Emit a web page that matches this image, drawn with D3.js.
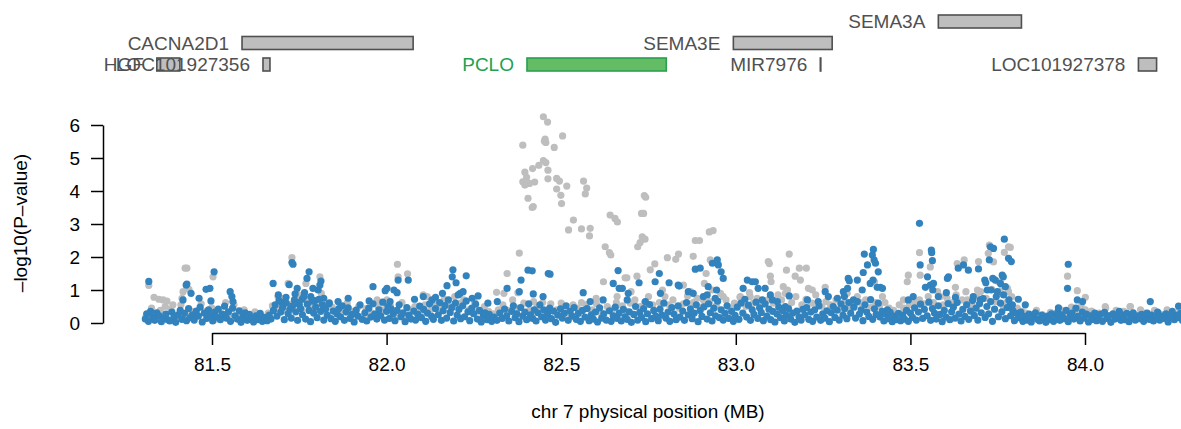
<!DOCTYPE html>
<html>
<head>
<meta charset="utf-8">
<script src="https://cdn.jsdelivr.net/npm/d3@7"></script>
<style>
  body { margin: 0; background: #fff; }
  svg { display: block; }
  text { font-family: "Liberation Sans", Arial, Helvetica, sans-serif; }
</style>
</head>
<body>
<svg id="chart" width="1181" height="429"></svg>
<script>
// Axis ticks (x in MB on chromosome 7, y in -log10 P)
const xTicks = [81.5, 82.0, 82.5, 83.0, 83.5, 84.0];
const yTicks = [0, 1, 2, 3, 4, 5, 6];

// Gene track: name, start / end (kb), track row
const geneNames  = ["SEMA3A", "CACNA2D1", "SEMA3E", "HGF", "LOC101927356", "PCLO", "MIR7976", "LOC101927378"];
const geneStartKb = [83580, 81586, 82993, 81342, 81646, 82402, 83242, 84153];
const geneEndKb   = [83818, 82076, 83276, 81408, 81666, 82801, 83243, 84205];
const geneTrack   = [0, 1, 1, 2, 2, 2, 2, 2];
const focusGene = "PCLO";

// SNP associations, flat pairs: position (kb), -log10(P)
const seriesGrey = [
  82449,6.25, 82461,6.09, 82504,5.67, 82454,5.57, 82456,5.47, 82452,5.51, 82480,5.32, 82390,5.39,
  82449,4.92, 82456,4.86, 82436,4.78, 82418,4.68, 82396,4.57, 82462,4.63, 82401,4.41, 82390,4.28,
  82396,4.18, 82409,4.23, 82424,4.27, 82487,4.38, 82495,4.30, 82462,4.37, 82516,4.15, 82487,4.06,
  82499,3.87, 82501,3.62, 82564,4.30, 82573,4.09, 82569,3.91, 82405,3.78, 82417,3.50, 82420,3.53,
  82535,3.12, 82521,2.82, 82558,2.85, 82583,2.87, 82581,2.64, 82640,3.27, 82654,3.17, 82661,3.06,
  82626,2.31, 82638,2.13, 82642,2.06, 82730,3.32, 82736,3.32, 82738,3.86, 82742,3.81, 82732,2.61,
  82740,2.54, 82726,2.44, 82719,2.31, 82621,1.25, 82683,1.37, 82688,1.37, 82717,1.42, 82755,1.61,
  82768,1.79, 82804,1.98, 82828,1.93, 82836,2.09, 82878,2.02, 82884,2.50, 82896,2.50, 82924,2.76,
  82935,2.80, 82927,1.91, 82380,2.12, 82345,1.50, 82031,1.78, 82060,1.49, 82315,0.93, 82336,0.90,
  82376,0.92, 82105,0.85,
  81423,1.66, 81428,1.66, 81319,1.14, 81334,0.78, 81348,0.72, 81360,0.70, 81371,0.66, 81388,0.55,
  81503,1.40, 81729,1.98, 81809,1.40, 81769,1.20, 81718,1.20, 81689,0.80, 81973,0.70, 82001,0.70,
  82033,1.40, 81675,0.48, 81417,0.95, 81434,1.02, 81414,0.75, 82116,0.80,
  82915,1.50, 82933,1.00, 82907,0.70, 82964,0.80, 83013,0.80, 83041,0.80, 83093,1.86, 83096,1.80,
  83099,1.42, 83101,1.25, 83145,1.60, 83153,2.09, 83170,1.42, 83182,1.66, 83202,1.66, 83185,1.30,
  83136,1.10, 83148,1.00, 83208,1.05, 83219,1.00, 83256,1.08, 83319,0.90, 83348,0.80, 83397,1.25,
  83420,0.80, 83480,0.70, 83494,1.45, 83491,1.25, 83526,2.13, 83528,1.45, 83557,1.70, 83586,0.80,
  83634,1.80, 83654,1.91, 83695,1.86, 83629,1.08, 83663,0.70, 83692,1.00, 83723,2.11, 83726,2.36,
  83769,2.14, 83781,2.31, 83786,2.29, 83738,1.85, 83752,1.25, 83763,1.10, 83778,1.05, 83781,0.95,
  83766,0.50, 83950,1.42, 83978,0.98, 84001,0.78, 84058,0.50, 84130,0.50, 82600,0.75, 82660,0.80,
  82700,0.95, 82790,1.00, 82850,1.15, 82870,0.95, 82910,1.20,
  81311,0.20, 81327,0.45, 81339,0.12, 81352,0.38, 81366,0.50, 81382,0.42, 81398,0.15, 81411,0.55,
  81424,0.30, 81440,0.36, 81452,0.22, 81469,0.58, 81482,0.35, 81499,0.46, 81511,0.12, 81521,0.30,
  81539,0.62, 81550,0.25, 81563,0.55, 81580,0.18, 81592,0.40, 81610,0.12, 81623,0.34, 81641,0.20,
  81653,0.09, 81661,0.30, 81673,0.52, 81689,0.44, 81700,0.75, 81716,0.36, 81733,0.60, 81747,0.85,
  81757,0.40, 81771,0.70, 81785,0.50, 81799,0.62, 81813,0.90, 81827,0.55, 81844,0.48, 81860,0.30,
  81871,0.40, 81887,0.60, 81904,0.35, 81920,0.50, 81933,0.20, 81941,0.44, 81958,0.30, 81975,0.52,
  81986,0.40, 81998,0.58, 82011,0.52, 82027,0.30, 82044,0.62, 82055,0.24, 82067,0.40, 82081,0.50,
  82097,0.30, 82110,0.55, 82126,0.40, 82138,0.62, 82150,0.45, 82165,0.72, 82180,0.52, 82195,0.80,
  82210,0.60, 82221,0.70, 82236,0.40, 82252,0.62, 82263,0.35, 82280,0.50, 82292,0.35, 82305,0.28,
  82320,0.40, 82333,0.55, 82348,0.38, 82361,0.70, 82375,0.45, 82393,0.60, 82410,0.40, 82421,0.65,
  82431,0.50, 82447,0.62, 82458,0.35, 82470,0.58, 82487,0.40, 82500,0.60, 82517,0.30, 82534,0.55,
  82546,0.45, 82558,0.62, 82571,0.55, 82589,0.40, 82601,0.58, 82614,0.30, 82632,0.50, 82646,0.40,
  82658,0.62, 82675,0.52, 82686,0.35, 82698,0.60, 82711,0.70, 82727,0.50, 82739,0.62, 82750,0.80,
  82762,0.55, 82781,0.62, 82797,0.80, 82809,0.55, 82820,0.70, 82838,0.45, 82850,0.58, 82862,0.82,
  82878,0.62, 82889,0.75, 82906,0.50, 82925,0.65, 82944,0.52, 82956,0.90, 82972,0.70, 82983,0.45,
  82996,0.60, 83012,0.78, 83029,0.50, 83039,0.92, 83050,0.60, 83061,0.75, 83076,0.55, 83092,0.70,
  83108,0.60, 83121,0.85, 83131,0.70, 83142,0.90, 83160,0.62, 83172,0.80, 83189,0.55, 83201,0.72,
  83218,0.60, 83229,0.85, 83246,0.50, 83258,0.65, 83271,0.55, 83287,0.70, 83299,0.42, 83314,0.62,
  83327,0.50, 83341,0.55, 83357,0.62, 83372,0.70, 83389,0.48, 83400,0.62, 83411,0.50, 83427,0.62,
  83439,0.45, 83452,0.38, 83468,0.55, 83481,0.45, 83497,0.55, 83510,0.62, 83526,0.70, 83538,0.58,
  83551,0.80, 83566,0.62, 83578,0.95, 83594,0.55, 83605,0.75, 83620,0.62, 83631,0.85, 83648,0.70,
  83659,0.95, 83676,0.55, 83690,0.80, 83701,0.95, 83717,0.75, 83733,1.02, 83744,0.65, 83760,0.90,
  83775,0.62, 83790,0.80, 83806,0.45, 83819,0.35, 83831,0.30, 83849,0.20, 83861,0.38, 83879,0.25,
  83891,0.15, 83901,0.32, 83919,0.22, 83931,0.40, 83949,0.28, 83961,0.48, 83971,0.35, 83989,0.50,
  84001,0.40, 84019,0.36, 84031,0.25, 84041,0.30, 84059,0.45, 84071,0.22, 84089,0.38, 84101,0.28,
  84111,0.35, 84129,0.50, 84141,0.22, 84159,0.40, 84171,0.30, 84181,0.20, 84199,0.38, 84217,0.26,
  84235,0.40, 84253,0.22, 84271,0.35
];

const seriesBlue = [
  81319,1.26, 81506,1.55, 81729,1.83, 81732,1.78, 81778,1.55, 81675,1.20, 81426,1.15, 81428,1.18,
  81440,0.90, 81483,1.02, 81494,1.05, 81497,0.67, 81552,0.95, 81557,0.80, 81560,0.65, 81463,0.75,
  81772,1.35, 81812,1.27, 81809,1.15, 81804,1.00, 81721,1.16, 81744,1.05, 81789,1.05, 81961,1.10,
  81996,0.98, 82001,1.05, 82033,1.30, 81950,0.67, 82030,0.92, 81758,0.72, 81890,0.75, 81861,0.65,
  81417,0.70, 81690,0.85, 81700,0.62, 81712,0.78, 81738,0.88, 81750,0.55, 81765,0.92, 81783,0.80,
  81795,0.68, 81820,0.75, 81835,0.58,
  82062,1.30, 82021,1.00, 82010,0.65, 82190,1.61, 82228,1.43, 82188,1.40, 82199,1.22, 82173,1.13,
  82211,0.90, 82219,0.95, 82105,0.80, 82130,0.70, 82080,0.72, 82140,0.78, 82160,0.90, 82205,0.85,
  82245,0.75, 82262,0.82, 82290,0.60,
  82345,1.05, 82380,0.95, 82385,1.30, 82405,1.60, 82417,1.58, 82463,1.50, 82468,1.48, 82420,0.88,
  82448,0.80, 82317,0.65, 82563,0.92, 82583,0.65, 82620,0.70, 82663,1.59, 82649,1.20, 82666,1.05,
  82675,1.05, 82692,0.90, 82689,0.70, 82723,1.22, 82741,0.65, 82769,1.25, 82781,1.50, 82784,0.90,
  82809,1.22, 82835,1.15, 82838,1.12, 82864,0.95, 82878,0.90, 82884,1.63, 82898,1.66, 82907,0.80,
  82921,1.10,
  82933,1.81, 82947,1.91, 82950,1.76, 82958,1.55, 82964,1.35, 82945,1.00, 82918,0.85, 82941,0.75,
  83033,1.30, 83047,1.25, 83056,1.25, 83021,1.05, 83064,1.05, 83084,1.05, 83099,0.85, 83076,0.70,
  83119,0.65, 83153,0.82, 83105,0.70, 83142,0.50, 83205,0.70, 83236,0.65, 83256,0.95, 83265,0.80,
  83291,0.75, 83308,0.95, 83322,1.35, 83325,1.28, 83348,1.30, 83320,1.05, 83311,0.80, 83337,0.70,
  83362,1.00, 83365,1.53, 83377,1.76, 83368,2.09, 83394,2.23, 83391,2.06, 83396,1.91, 83400,1.81,
  83408,1.55, 83405,1.08, 83414,1.08, 83420,1.05, 83385,1.20, 83393,1.30, 83434,0.40, 83494,0.70,
  83508,0.80,
  83526,3.02, 83528,1.76, 83560,2.21, 83561,2.13, 83563,1.89, 83549,1.40, 83543,1.08, 83557,1.15,
  83566,1.20, 83564,1.00, 83580,0.80, 83606,1.35, 83609,1.40, 83603,0.92, 83629,0.78, 83637,1.66,
  83666,1.60, 83652,1.76, 83695,1.64, 83713,1.30, 83716,1.22, 83720,1.00, 83729,2.31, 83738,2.26,
  83726,1.91, 83743,1.30, 83749,0.95, 83680,0.80, 83700,0.70,
  83769,2.54, 83781,1.96, 83789,1.86, 83736,1.35, 83763,1.45, 83766,1.40, 83758,1.20, 83772,1.10,
  83731,1.00, 83786,0.55, 83792,0.55, 83809,0.72, 83829,0.55, 83952,1.78, 83950,1.05, 83978,0.70,
  83993,0.65, 83924,0.46, 84187,0.65, 84268,0.51,
  81309,0.12, 81313,0.28, 81318,0.05, 81324,0.35, 81330,0.18, 81336,0.08, 81342,0.31, 81349,0.22,
  81355,0.04, 81361,0.15, 81368,0.27, 81373,0.10, 81379,0.06, 81385,0.33, 81391,0.19, 81396,0.02,
  81402,0.24, 81409,0.38, 81414,0.11, 81421,0.29, 81427,0.07, 81433,0.44, 81438,0.16, 81444,0.25,
  81449,0.09, 81455,0.36, 81461,0.21, 81466,0.48, 81472,0.03, 81478,0.30, 81485,0.14, 81490,0.40,
  81496,0.24, 81502,0.06, 81508,0.33, 81513,0.18, 81518,0.42, 81524,0.10, 81530,0.27, 81536,0.51,
  81541,0.15, 81547,0.34, 81553,0.05, 81559,0.45, 81566,0.22, 81572,0.12, 81578,0.37, 81583,0.02,
  81589,0.20, 81595,0.31, 81601,0.08, 81607,0.26, 81613,0.14, 81619,0.03, 81626,0.22, 81632,0.10,
  81638,0.29, 81644,0.05, 81650,0.17, 81658,0.07, 81664,0.24, 81669,0.12, 81676,0.38, 81681,0.55,
  81686,0.21, 81692,0.68, 81697,0.33, 81702,0.47, 81707,0.10, 81713,0.60, 81718,0.28, 81723,0.41,
  81727,0.15, 81731,0.52, 81736,0.70, 81740,0.34, 81745,0.08, 81749,0.62, 81754,0.44, 81759,0.25,
  81763,0.80, 81768,0.12, 81773,0.57, 81778,0.38, 81782,0.04, 81787,0.66, 81791,0.30, 81797,0.48,
  81801,0.16, 81806,0.72, 81811,0.35, 81816,0.55, 81820,0.09, 81825,0.42, 81830,0.24, 81836,0.61,
  81841,0.13, 81847,0.36, 81853,0.05, 81858,0.27, 81863,0.44, 81868,0.19, 81873,0.52, 81879,0.08,
  81884,0.33, 81890,0.46, 81895,0.14, 81901,0.26, 81907,0.03, 81913,0.39, 81918,0.21, 81924,0.55,
  81930,0.11, 81938,0.31, 81943,0.06, 81949,0.45, 81955,0.18, 81961,0.58, 81966,0.27, 81972,0.12,
  81978,0.40, 81983,0.22, 81989,0.63, 81994,0.09, 82000,0.35, 82004,0.50, 82008,0.14, 82013,0.43,
  82019,0.28, 82024,0.07, 82030,0.38, 82036,0.55, 82041,0.19, 82047,0.31, 82053,0.04, 82058,0.47,
  82064,0.23, 82070,0.12, 82078,0.36, 82083,0.09, 82089,0.27, 82095,0.51, 82100,0.16, 82106,0.41,
  82112,0.05, 82117,0.30, 82123,0.58, 82129,0.20, 82134,0.11, 82140,0.44, 82148,0.25, 82152,0.62,
  82157,0.08, 82162,0.37, 82167,0.53, 82172,0.15, 82177,0.70, 82182,0.32, 82187,0.47, 82192,0.06,
  82197,0.60, 82202,0.24, 82207,0.41, 82212,0.13, 82218,0.52, 82223,0.19, 82228,0.66, 82233,0.34,
  82238,0.07, 82244,0.45, 82249,0.28, 82255,0.57, 82260,0.12, 82266,0.38, 82271,0.03, 82277,0.22,
  82282,0.31, 82288,0.10, 82294,0.26, 82301,0.05, 82308,0.18, 82316,0.08, 82324,0.30, 82331,0.14,
  82338,0.42, 82344,0.22, 82350,0.06, 82358,0.35, 82363,0.52, 82368,0.16, 82373,0.28, 82379,0.04,
  82384,0.47, 82390,0.21, 82396,0.33, 82401,0.10, 82407,0.58, 82412,0.25, 82418,0.14, 82423,0.40,
  82428,0.06, 82433,0.31, 82439,0.55, 82444,0.19, 82450,0.40, 82455,0.09, 82461,0.27, 82467,0.45,
  82472,0.13, 82478,0.36, 82484,0.02, 82490,0.24, 82498,0.43, 82503,0.15, 82509,0.30, 82514,0.52,
  82520,0.08, 82526,0.36, 82531,0.21, 82537,0.47, 82543,0.11, 82549,0.29, 82555,0.05, 82561,0.38,
  82568,0.18, 82574,0.44, 82580,0.07, 82586,0.25, 82592,0.12, 82598,0.33, 82604,0.03, 82610,0.46,
  82616,0.15, 82622,0.28, 82629,0.09, 82638,0.37, 82643,0.05, 82649,0.22, 82655,0.48, 82660,0.14,
  82666,0.30, 82672,0.06, 82678,0.41, 82683,0.19, 82689,0.11, 82695,0.34, 82701,0.02, 82708,0.26,
  82713,0.50, 82719,0.09, 82725,0.32, 82730,0.17, 82736,0.44, 82742,0.04, 82747,0.28, 82753,0.56,
  82759,0.13, 82765,0.38, 82771,0.21, 82778,0.07, 82783,0.42, 82789,0.24, 82794,0.60, 82800,0.15,
  82806,0.33, 82811,0.05, 82817,0.47, 82823,0.27, 82829,0.10, 82835,0.52, 82840,0.18, 82848,0.36,
  82853,0.08, 82859,0.62, 82864,0.25, 82870,0.43, 82875,0.13, 82881,0.30, 82887,0.55, 82892,0.04,
  82898,0.38, 82903,0.20, 82909,0.49, 82918,0.12, 82922,0.58, 82927,0.31, 82932,0.06, 82937,0.45,
  82942,0.22, 82948,0.66, 82953,0.16, 82958,0.40, 82964,0.09, 82969,0.29, 82975,0.52, 82980,0.14,
  82988,0.35, 82993,0.05, 82998,0.23, 83004,0.48, 83009,0.11, 83015,0.60, 83020,0.30, 83026,0.72,
  83031,0.18, 83036,0.54, 83042,0.08, 83047,0.40, 83052,0.26, 83058,0.63, 83063,0.14, 83068,0.46,
  83073,0.32, 83079,0.07, 83084,0.58, 83089,0.21, 83095,0.42, 83100,0.10, 83106,0.35, 83112,0.03,
  83118,0.27, 83123,0.48, 83128,0.16, 83134,0.38, 83139,0.06, 83145,0.24, 83151,0.44, 83157,0.12,
  83163,0.30, 83169,0.02, 83175,0.36, 83181,0.19, 83187,0.09, 83192,0.41, 83198,0.25, 83203,0.47,
  83209,0.11, 83215,0.33, 83220,0.05, 83226,0.40, 83232,0.18, 83238,0.52, 83243,0.08, 83249,0.28,
  83255,0.15, 83261,0.37, 83268,0.04, 83273,0.31, 83279,0.50, 83284,0.17, 83290,0.39, 83296,0.09,
  83301,0.58, 83307,0.24, 83312,0.44, 83318,0.13, 83324,0.62, 83329,0.30, 83338,0.48, 83343,0.15,
  83348,0.65, 83354,0.27, 83359,0.40, 83364,0.07, 83370,0.55, 83375,0.33, 83381,0.20, 83386,0.71,
  83392,0.11, 83397,0.43, 83402,0.26, 83408,0.60, 83413,0.18, 83419,0.35, 83424,0.06, 83430,0.27,
  83436,0.13, 83442,0.32, 83448,0.04, 83454,0.21, 83460,0.10, 83466,0.29, 83472,0.07, 83478,0.24,
  83483,0.12, 83489,0.38, 83494,0.05, 83500,0.30, 83506,0.17, 83512,0.46, 83517,0.09, 83523,0.33,
  83529,0.57, 83535,0.14, 83540,0.41, 83548,0.22, 83553,0.63, 83558,0.08, 83563,0.44, 83569,0.30,
  83574,0.12, 83580,0.52, 83585,0.26, 83591,0.04, 83597,0.38, 83602,0.18, 83608,0.59, 83613,0.10,
  83618,0.34, 83623,0.48, 83628,0.15, 83634,0.62, 83639,0.27, 83645,0.06, 83650,0.41, 83656,0.20,
  83661,0.55, 83667,0.11, 83672,0.36, 83678,0.68, 83683,0.23, 83688,0.45, 83693,0.09, 83698,0.58,
  83703,0.31, 83708,0.74, 83714,0.17, 83719,0.50, 83724,0.28, 83730,0.65, 83735,0.05, 83741,0.42,
  83746,0.80, 83752,0.19, 83758,0.60, 83762,0.34, 83767,0.85, 83772,0.13, 83777,0.47, 83782,0.70,
  83787,0.22, 83793,0.38, 83798,0.07, 83804,0.29, 83810,0.16, 83816,0.33, 83822,0.05, 83828,0.20,
  83834,0.09, 83840,0.27, 83846,0.03, 83852,0.18, 83858,0.31, 83864,0.11, 83870,0.06, 83876,0.24,
  83882,0.14, 83888,0.02, 83893,0.21, 83898,0.10, 83904,0.28, 83910,0.05, 83916,0.19, 83922,0.34,
  83928,0.08, 83934,0.25, 83940,0.13, 83946,0.38, 83952,0.04, 83958,0.22, 83963,0.30, 83968,0.12,
  83974,0.45, 83980,0.20, 83986,0.06, 83992,0.33, 83998,0.15, 84004,0.27, 84010,0.03, 84016,0.22,
  84022,0.11, 84028,0.30, 84033,0.07, 84038,0.18, 84044,0.26, 84050,0.05, 84056,0.32, 84062,0.14,
  84068,0.22, 84074,0.02, 84080,0.28, 84086,0.12, 84092,0.19, 84098,0.35, 84103,0.08, 84108,0.24,
  84114,0.10, 84120,0.29, 84126,0.04, 84132,0.17, 84138,0.31, 84144,0.09, 84150,0.22, 84156,0.13,
  84162,0.26, 84168,0.05, 84173,0.19, 84178,0.30, 84184,0.11, 84190,0.24, 84196,0.06, 84202,0.18,
  84208,0.33, 84214,0.09, 84220,0.21, 84226,0.14, 84232,0.28, 84238,0.03, 84244,0.19, 84250,0.35,
  84256,0.10, 84262,0.23, 84268,0.16, 84274,0.30, 84279,0.08
];

const FONT = 19;
const DOT_R = 3.6;
const svg = d3.select("#chart");

const x = d3.scaleLinear().domain([81.5, 84.0]).range([212, 1085]);
const y = d3.scaleLinear().domain([0, 6]).range([323, 125]);
const trackY = d3.scaleLinear().domain([0, 2]).range([21.5, 64.5]);

const toPoints = arr => d3.range(0, arr.length, 2).map(i => ({ mb: arr[i] / 1000, p: arr[i + 1] }));

// ---- gene track ----
const genes = geneNames.map((name, i) => ({
  name, start: geneStartKb[i] / 1000, end: geneEndKb[i] / 1000, track: geneTrack[i]
}));
const gGenes = svg.append("g");
gGenes.selectAll("rect").data(genes).join("rect")
  .attr("x", d => x(d.start))
  .attr("y", d => trackY(d.track) - 6.5)
  .attr("width", d => Math.max(0.5, x(d.end) - x(d.start)))
  .attr("height", 13)
  .attr("fill", d => d.name === focusGene ? "#64bc64" : "#bebebe")
  .attr("stroke", d => d.name === focusGene ? "#28a050" : "#505050")
  .attr("stroke-width", 1.6);
gGenes.selectAll("text").data(genes).join("text")
  .attr("x", d => x(d.start) - 13)
  .attr("y", d => trackY(d.track))
  .attr("dy", "0.36em")
  .attr("text-anchor", "end")
  .attr("font-size", FONT)
  .attr("fill", d => d.name === focusGene ? "#23a152" : "#505050")
  .text(d => d.name);

// ---- association points ----
svg.append("g").selectAll("circle").data(toPoints(seriesGrey)).join("circle")
  .attr("cx", d => x(d.mb)).attr("cy", d => y(d.p)).attr("r", DOT_R)
  .attr("fill", "#bebebe");
svg.append("g").selectAll("circle").data(toPoints(seriesBlue)).join("circle")
  .attr("cx", d => x(d.mb)).attr("cy", d => y(d.p)).attr("r", DOT_R)
  .attr("fill", "#3182bd");

// ---- axes ----
const yAxis = svg.append("g").attr("transform", "translate(103,0)")
  .call(d3.axisLeft(y).tickValues(yTicks).tickFormat(d3.format("d"))
    .tickSize(12).tickSizeOuter(0).tickPadding(11));
const xAxis = svg.append("g").attr("transform", "translate(0,333)")
  .call(d3.axisBottom(x).tickValues(xTicks).tickFormat(d3.format(".1f"))
    .tickSize(12).tickSizeOuter(0).tickPadding(13));
[yAxis, xAxis].forEach(g => {
  g.attr("font-size", FONT).attr("font-family", null);
  g.selectAll("path, line").attr("stroke", "#000").attr("stroke-width", 1.5);
  g.selectAll("text").attr("fill", "#000");
});

svg.append("text")
  .attr("transform", "translate(27,223) rotate(-90)")
  .attr("text-anchor", "middle").attr("font-size", FONT)
  .text("–log10(P–value)");
svg.append("text")
  .attr("x", 648).attr("y", 418)
  .attr("text-anchor", "middle").attr("font-size", FONT)
  .text("chr 7 physical position (MB)");
</script>
</body>
</html>
